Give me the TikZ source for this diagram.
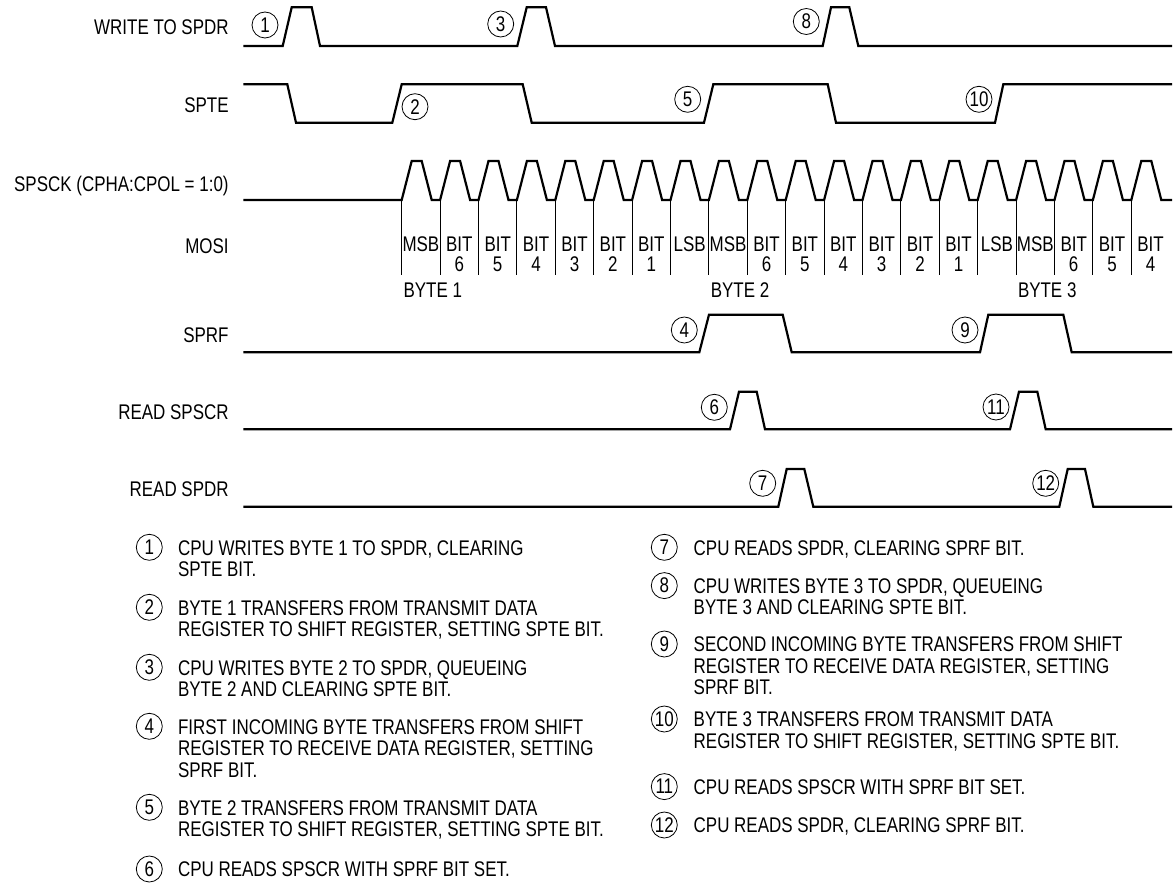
\documentclass[tikz,border=0pt]{standalone}
\usepackage{fontspec}
\setmainfont[FakeStretch=0.8]{Liberation Sans}
\usepackage{tikz}
\tikzset{
  wave/.style    = {line width=1.1pt, line join=miter},
  tick/.style    = {line width=0.5pt},
  numcirc/.style = {draw, circle, line width=0.4pt, inner sep=0pt, minimum size=13pt},
  signame/.style = {anchor=base east, inner sep=0pt},
  cell/.style    = {anchor=base, inner sep=0pt},
  note/.style    = {anchor=base west, inner sep=0pt},
}
\newcommand{\lblsize}{\fontsize{10.6pt}{12pt}\selectfont}
\newcommand{\notenum}[4]{\node[numcirc] (#1) at (#2,#3) {#4};}

\begin{document}
\begin{tikzpicture}[x=0.5pt,y=-0.5pt,font=\lblsize]
\useasboundingbox (0,0) rectangle (1173,883);
% ---- signal names ----
\foreach \n/\y/\t in {wr/35/{WRITE TO SPDR}, spte/112.3/{SPTE},
    sck/191.7/{SPSCK (CPHA:CPOL = 1:0)}, mosi/253.3/{MOSI}, sprf/342.7/{SPRF},
    rdscr/419.3/{READ SPSCR}, rddr/496/{READ SPDR}}
  \node[signame] (\n) at (229,\y) {\t};
% ---- waveforms ----
\draw[wave] (243.3,46) -- (282.7,46) -- (291.7,7.3) -- (311.7,7.3) -- (320,46)
  -- (517.3,46) -- (526.7,7.3) -- (546,7.3) -- (555,46)
  -- (822.7,46) -- (831,7.3) -- (849.3,7.3) -- (858.3,46) -- (1172,46);
\draw[wave] (243.3,84.3) -- (287.3,84.3) -- (296,122.7) -- (392.3,122.7) -- (401.7,84.3)
  -- (522.7,84.3) -- (531.7,122.7) -- (704,122.7) -- (713.3,84.3)
  -- (827.7,84.3) -- (836,122.7) -- (995,122.7) -- (1003.3,84.3) -- (1172,84.3);
\draw[wave] (243.3,200)
  \foreach \k in {0,...,19}{ -- ({401.7+38.4*\k},200) -- ++(10,-39) -- ++(10,0) -- ++(10,39) }
  -- (1172,200);
\draw[wave] (243.3,352.3) -- (699.3,352.3) -- (709,314.7) -- (782.7,314.7) -- (791.7,352.3)
  -- (980,352.3) -- (988.3,314.7) -- (1063.3,314.7) -- (1071.7,352.3) -- (1172,352.3);
\draw[wave] (243.3,429.3) -- (730,429.3) -- (739,391.7) -- (756.7,391.7) -- (765,429.3)
  -- (1010,429.3) -- (1019,391.7) -- (1037.3,391.7) -- (1045.7,429.3) -- (1172,429.3);
\draw[wave] (243.3,506.7) -- (778.3,506.7) -- (786.7,469) -- (804.3,469) -- (813.3,506.7)
  -- (1059.3,506.7) -- (1067.7,469) -- (1085,469) -- (1093.3,506.7) -- (1172,506.7);
% ---- MOSI bit cells ----
\foreach \k/\hi/\lo in {0/MSB/{},1/BIT/6,2/BIT/5,3/BIT/4,4/BIT/3,5/BIT/2,6/BIT/1,7/LSB/{},
    8/MSB/{},9/BIT/6,10/BIT/5,11/BIT/4,12/BIT/3,13/BIT/2,14/BIT/1,15/LSB/{},
    16/MSB/{},17/BIT/6,18/BIT/5,19/BIT/4}{
  \draw[tick] ({401.7+38.4*\k},200) -- ++(0,75);
  \node[cell] (hi\k) at ({420.9+38.4*\k},251.7) {\hi};
  \node[cell] (lo\k) at ({420.9+38.4*\k},271.7) {\lo};
}
\foreach \b/\k in {1/0,2/8,3/16}
  \node[note] (byte\b) at ({403.2+38.4*\k},297.3) {BYTE \b};
% ---- event markers ----
\foreach \n/\x/\y in {1/265/25, 3/500.7/24, 8/806.3/21.5, 2/415/106.7, 5/687.7/99.3,
    10/979/99.3, 4/684.3/330, 9/965/330, 6/714.3/407.3, 11/996/407,
    7/762.7/483.3, 12/1045.7/483.3}
  \node[numcirc] (w\n) at (\x,\y) {\n};
% ---- notes, left column ----
\notenum{n1}{149.3}{547.3}{1}
\node[note] (n1a) at (177.7,555) {CPU WRITES BYTE 1 TO SPDR, CLEARING};
\node[note] (n1b) at (177.7,576.5) {SPTE BIT.};
\notenum{n2}{149.3}{607.3}{2}
\node[note] (n2a) at (177.7,615) {BYTE 1 TRANSFERS FROM TRANSMIT DATA};
\node[note] (n2b) at (177.7,636.5) {REGISTER TO SHIFT REGISTER, SETTING SPTE BIT.};
\notenum{n3}{149.3}{667.3}{3}
\node[note] (n3a) at (177.7,675) {CPU WRITES BYTE 2 TO SPDR, QUEUEING};
\node[note] (n3b) at (177.7,696.5) {BYTE 2 AND CLEARING SPTE BIT.};
\notenum{n4}{149.3}{726.3}{4}
\node[note] (n4a) at (177.7,734) {FIRST INCOMING BYTE TRANSFERS FROM SHIFT};
\node[note] (n4b) at (177.7,755.5) {REGISTER TO RECEIVE DATA REGISTER, SETTING};
\node[note] (n4c) at (177.7,777) {SPRF BIT.};
\notenum{n5}{149.3}{807.3}{5}
\node[note] (n5a) at (177.7,815) {BYTE 2 TRANSFERS FROM TRANSMIT DATA};
\node[note] (n5b) at (177.7,836.5) {REGISTER TO SHIFT REGISTER, SETTING SPTE BIT.};
\notenum{n6}{149.3}{869}{6}
\node[note] (n6a) at (177.7,876.7) {CPU READS SPSCR WITH SPRF BIT SET.};
% ---- notes, right column ----
\notenum{n7}{664.3}{547.3}{7}
\node[note] (n7a) at (693.3,555) {CPU READS SPDR, CLEARING SPRF BIT.};
\notenum{n8}{664.3}{585.6}{8}
\node[note] (n8a) at (693.3,593.3) {CPU WRITES BYTE 3 TO SPDR, QUEUEING};
\node[note] (n8b) at (693.3,614.8) {BYTE 3 AND CLEARING SPTE BIT.};
\notenum{n9}{664.3}{644}{9}
\node[note] (n9a) at (693.3,651.7) {SECOND INCOMING BYTE TRANSFERS FROM SHIFT};
\node[note] (n9b) at (693.3,673.2) {REGISTER TO RECEIVE DATA REGISTER, SETTING};
\node[note] (n9c) at (693.3,694.7) {SPRF BIT.};
\notenum{n10}{664.3}{719}{10}
\node[note] (n10a) at (693.3,726.7) {BYTE 3 TRANSFERS FROM TRANSMIT DATA};
\node[note] (n10b) at (693.3,748.2) {REGISTER TO SHIFT REGISTER, SETTING SPTE BIT.};
\notenum{n11}{664.3}{786.6}{11}
\node[note] (n11a) at (693.3,794.3) {CPU READS SPSCR WITH SPRF BIT SET.};
\notenum{n12}{664.3}{825}{12}
\node[note] (n12a) at (693.3,832.7) {CPU READS SPDR, CLEARING SPRF BIT.};
\end{tikzpicture}
\end{document}
